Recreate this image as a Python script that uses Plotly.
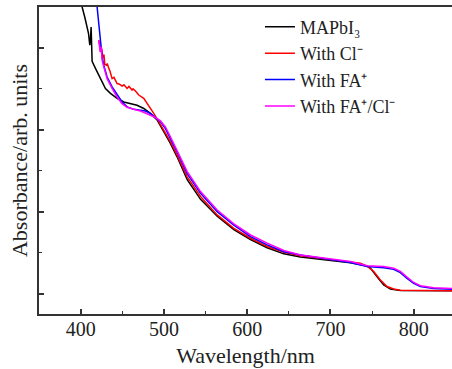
import plotly.graph_objects as go

# MAPbI3
wl_black = [398, 401.8, 405, 407.8, 409.5, 411, 411.8, 412.6, 413.8, 417.8, 421.8, 425.8, 429.8,
            435.8, 443.8, 451.8, 455.8, 459.8, 467.8, 475.8, 483.8, 491.8, 499.8, 507.8, 515.8,
            528, 544, 564, 584, 604, 624, 644, 664, 704, 724, 744, 748, 756, 764, 772, 784, 846]
ab_black = [7.5, 7.0, 6.75, 6.51, 6.35, 6.07, 6.2, 6.51, 5.67, 5.50, 5.33, 5.17, 5.01,
            4.89, 4.77, 4.68, 4.66, 4.64, 4.60, 4.52, 4.40, 4.24, 3.95, 3.67, 3.34,
            2.78, 2.30, 1.89, 1.56, 1.32, 1.12, 0.97, 0.89, 0.79, 0.75, 0.67, 0.62, 0.41, 0.21,
            0.11, 0.075, 0.065]

# With Cl-
wl_red = [421.8, 423.8, 425, 425.8, 427, 428, 429, 431, 432, 433.8, 435, 437.8, 440, 443.8,
          446, 449.8, 452, 455.8, 458, 461.8, 463, 465.8, 469.8, 475.8, 481.8, 487.8, 493.8,
          499.8, 507.8, 515.8, 528, 544, 564, 584, 604, 624, 644, 664, 704, 724, 736, 744,
          752, 760, 768, 776, 784, 846]
ab_red = [6.19, 5.94, 6.0, 5.86, 5.75, 5.84, 5.6, 5.58, 5.62, 5.50, 5.45, 5.25, 5.28, 5.13,
          5.12, 5.07, 5.10, 5.01, 5.06, 4.97, 5.0, 4.95, 4.85, 4.77, 4.60, 4.40, 4.20,
          3.99, 3.71, 3.38, 2.85, 2.37, 1.92, 1.59, 1.35, 1.15, 1.01, 0.92, 0.82, 0.78, 0.74,
          0.67, 0.54, 0.33, 0.17, 0.11, 0.08, 0.065]

# With FA+
wl_blue = [418.5, 419.8, 421.8, 423.8, 425.8, 427.8, 431.8, 437.8, 443.8, 449.8, 455.8, 463.8,
           471.8, 477.8, 483.8, 489.8, 495.8, 501.8, 507.8, 515.8, 528, 544, 564, 584, 604,
           624, 644, 664, 704, 724, 744, 764, 776, 784, 792, 800, 808, 824, 846]
ab_blue = [7.5, 7.0, 6.59, 6.11, 5.78, 5.58, 5.29, 5.05, 4.85, 4.68, 4.56, 4.50,
           4.48, 4.46, 4.40, 4.30, 4.20, 4.03, 3.79, 3.46, 2.93, 2.45, 2.00, 1.67, 1.39,
           1.19, 1.02, 0.94, 0.82, 0.76, 0.66, 0.63, 0.59, 0.51, 0.37, 0.25, 0.17, 0.12, 0.105]

# With FA+/Cl-
wl_mag = [421.8, 423.5, 424.8, 425.8, 427.8, 431.8, 437.8, 443.8, 449.8, 455.8, 463.8, 471.8,
          477.8, 483.8, 489.8, 495.8, 501.8, 507.8, 515.8, 528, 544, 564, 584, 604, 624,
          644, 664, 704, 724, 744, 764, 776, 784, 792, 800, 808, 824, 846]
ab_mag = [6.19, 5.90, 6.02, 5.70, 5.54, 5.25, 5.01, 4.80, 4.64, 4.55, 4.50, 4.46,
          4.41, 4.36, 4.30, 4.22, 4.07, 3.83, 3.50, 2.98, 2.49, 2.04, 1.70, 1.43, 1.23,
          1.05, 0.94, 0.84, 0.78, 0.68, 0.66, 0.62, 0.54, 0.40, 0.27, 0.19, 0.14, 0.12]

series_names = ["MAPbI₃", "With Cl⁻", "With FA⁺", "With FA⁺/Cl⁻"]
series_colors = ["#000000", "#ff0000", "#0000ff", "#ff00ff"]

x_ticks = [400, 500, 600, 700, 800]
y_ticks = [0, 2, 4, 6]

FONT = "Liberation Serif"

fig = go.Figure()
for name, x, y, c in zip(series_names, [wl_black, wl_red, wl_blue, wl_mag],
                         [ab_black, ab_red, ab_blue, ab_mag], series_colors):
    fig.add_trace(go.Scatter(x=x, y=y, mode="lines", name=name,
                             line=dict(color=c, width=1.5)))

fig.update_layout(
    width=452, height=369,
    margin=dict(l=39, r=0, t=7, b=55),
    paper_bgcolor="white", plot_bgcolor="white",
    font=dict(family=FONT, size=20, color="#222"),
    showlegend=True,
    legend=dict(x=0.535, y=0.995, xanchor="left", yanchor="top",
                bgcolor="rgba(0,0,0,0)", font=dict(family=FONT, size=18),
                tracegroupgap=0),
)
fig.update_xaxes(
    range=[350, 846], tickvals=x_ticks, ticks="inside", ticklen=5, tickwidth=1.5,
    tickcolor="#333", showline=True, linecolor="#333", linewidth=1.5, mirror=True,
    showgrid=False, zeroline=False, automargin=False, ticklabelstandoff=-4,
    minor=dict(ticks="inside", ticklen=3, dtick=50, tickwidth=1.2, tickcolor="#333", showgrid=False),
    tickfont=dict(family=FONT, size=20),
    title=dict(text="Wavelength/nm", font=dict(family=FONT, size=22), standoff=9),
)
fig.update_yaxes(
    range=[-0.5, 7.0], tickvals=y_ticks, showticklabels=False, ticks="inside", ticklen=5,
    tickwidth=1.5, tickcolor="#333", showline=True, linecolor="#333", linewidth=1.5,
    mirror=False, showgrid=False, zeroline=False, automargin=False,
    minor=dict(ticks="inside", ticklen=3, dtick=1, tickwidth=1.2, tickcolor="#333", showgrid=False),
    title=dict(text="Absorbance/arb. units", font=dict(family=FONT, size=22), standoff=4),
)

fig.write_html(
    "out.html",
    config={"displayModeBar": False},
    post_script="document.body.style.margin='0';document.body.style.overflow='hidden';",
)
